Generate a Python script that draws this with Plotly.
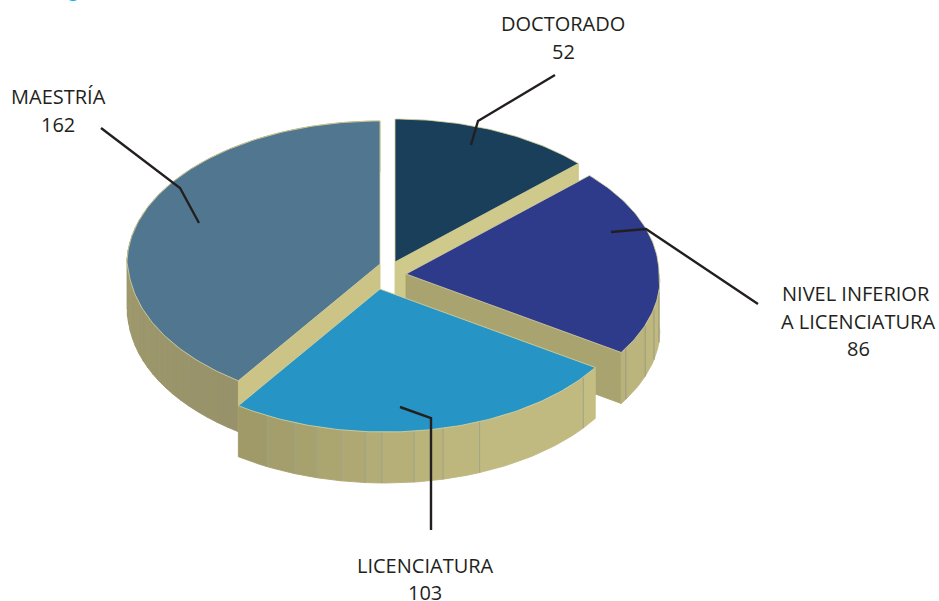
import math
import plotly.graph_objects as go

# Data
categories = ["DOCTORADO", "NIVEL INFERIOR<br>A LICENCIATURA", "LICENCIATURA", "MAESTRÍA"]
values = [52, 86, 103, 162]

# Geometry and style (pixel space of the page)
RX, RY, DEPTH = 253, 143, 51
SKEW = 5  # the front of the disc leans slightly right in the reference's perspective
CENTERS = [(395, 262), (406, 274), (380, 289), (380, 264)]
TOP_COLORS = ["#1a3f5a", "#2e3a8a", "#2794c6", "#50778f"]
RIM = "#d9d39b"
INK = "#231f20"

total = sum(values)
edges = [0.0]
for v in values:
    edges.append(edges[-1] + 360.0 * v / total)


def pt(center, ang, drop=0.0):
    a = math.radians(ang)
    lean = SKEW * math.sqrt(max(0.0, -math.cos(a)))
    return center[0] + RX * math.sin(a) + lean, center[1] - RY * math.cos(a) + drop


def arc(center, a0, a1, drop=0.0, step=1.0):
    n = max(2, int(abs(a1 - a0) / step) + 1)
    return [pt(center, a0 + (a1 - a0) * i / (n - 1), drop) for i in range(n)]


def mix(c1, c2, t):
    p = [int(c1[i:i + 2], 16) for i in (1, 3, 5)]
    q = [int(c2[i:i + 2], 16) for i in (1, 3, 5)]
    return "#%02x%02x%02x" % tuple(round(a + (b - a) * t) for a, b in zip(p, q))


fig = go.Figure()


def poly(points, fill, line=None, width=0.9):
    xs = [p[0] for p in points] + [points[0][0]]
    ys = [p[1] for p in points] + [points[0][1]]
    fig.add_trace(go.Scatter(x=xs, y=ys, mode="lines", fill="toself", fillcolor=fill,
                             line=dict(color=line or fill, width=width),
                             hoverinfo="skip", showlegend=False))


def flat_wall(center, ang, fill):
    apex = center
    rim = pt(center, ang)
    poly([apex, rim, (rim[0], rim[1] + DEPTH), (apex[0], apex[1] + DEPTH)], fill)


def outer_wall(center, seams, c_start, c_end, seam_color):
    for i in range(len(seams) - 1):
        a0, a1 = seams[i], seams[i + 1]
        t = i / max(1, len(seams) - 2)
        upper = arc(center, a0, a1)
        lower = arc(center, a1, a0, DEPTH)
        poly(upper + lower, mix(c_start, c_end, t))
        if seam_color and i > 0:
            x, y = pt(center, a0)
            fig.add_trace(go.Scatter(x=[x, x], y=[y, y + DEPTH], mode="lines",
                                     line=dict(color=seam_color, width=1),
                                     hoverinfo="skip", showlegend=False))


def top(center, a0, a1, fill):
    poly([center] + arc(center, a0, a1), fill, RIM, 0.8)


# Doctorado
flat_wall(CENTERS[0], edges[1], "#cfc98c")
top(CENTERS[0], edges[0], edges[1], TOP_COLORS[0])

# Maestría
outer_wall(CENTERS[3], [edges[3] + (360 - edges[3]) * i / 48 for i in range(49)], "#98926a", "#a9a370", None)
flat_wall(CENTERS[3], edges[3], "#cbc486")
top(CENTERS[3], edges[3], edges[4], TOP_COLORS[3])

# Nivel inferior
flat_wall(CENTERS[1], edges[2], "#a9a370")
seams_n = [90, 97, 104, 111, edges[2] - 2, edges[2]]
outer_wall(CENTERS[1], seams_n, "#c3bc81", "#b9b27c", "#9a9c82")
top(CENTERS[1], edges[1], edges[2], TOP_COLORS[1])

# Licenciatura
seams_l = [edges[2], 128, 158, 166.7, 173.4, 180.7, 184.5, 190, 195.6, 200.8, 207.5, edges[3]]
outer_wall(CENTERS[2], seams_l, "#c5be82", "#a09a69", "#9fa58a")
top(CENTERS[2], edges[2], edges[3], TOP_COLORS[2])

leaders = [
    [(555, 75), (478, 121), (471, 145)],
    [(758, 304), (646, 229), (611, 232)],
    [(431, 530), (431, 418), (400, 407)],
    [(101, 128), (180, 188), (199, 223)],
]
shapes = [dict(type="path", xref="x", yref="y",
               path="M" + " L".join(f"{x},{y}" for x, y in leader),
               line=dict(color=INK, width=2.4)) for leader in leaders]
shapes.append(dict(type="circle", xref="x", yref="y", x0=65, x1=81, y0=-15, y1=1,
                   fillcolor="#00aeef", line=dict(width=0)))

label_lines = [
    (563, 23, "DOCTORADO"), (563, 51, str(values[0])),
    (856, 293, "NIVEL INFERIOR"), (858, 321, "A LICENCIATURA"), (858, 348, str(values[1])),
    (425, 565, "LICENCIATURA"), (425, 592, str(values[2])),
    (58, 96, "MAESTRÍA"), (58, 124, str(values[3])),
]
annotations = [dict(x=x, y=y, text=t, xref="x", yref="y", showarrow=False,
                    xanchor="center", yanchor="middle",
                    font=dict(family="Open Sans", size=20, color=INK))
               for x, y, t in label_lines]

fig.update_layout(
    width=939, height=601, margin=dict(l=0, r=0, t=0, b=0),
    paper_bgcolor="white", plot_bgcolor="white", showlegend=False,
    shapes=shapes, annotations=annotations,
    xaxis=dict(range=[0, 939], visible=False, fixedrange=True),
    yaxis=dict(range=[601, 0], visible=False, fixedrange=True),
)
fig.write_html("out.html", config={"displayModeBar": False},
               post_script="document.body.style.margin='0';document.documentElement.style.overflow='hidden';")
